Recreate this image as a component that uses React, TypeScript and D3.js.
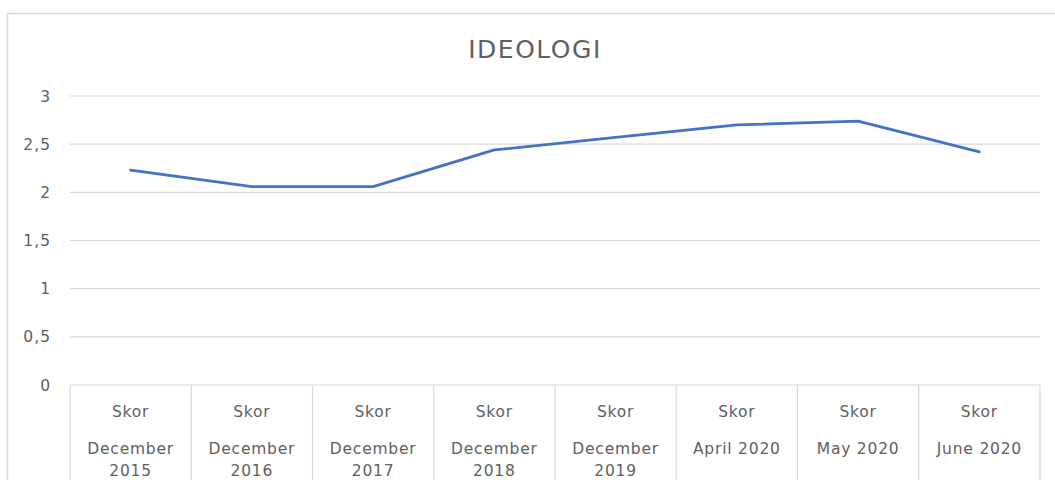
import React from "react";
import * as d3 from "d3";

const title = "IDEOLOGI";
const seriesLabel = "Skor";
const categories: string[][] = [
  ["December", "2015"],
  ["December", "2016"],
  ["December", "2017"],
  ["December", "2018"],
  ["December", "2019"],
  ["April 2020"],
  ["May 2020"],
  ["June 2020"],
];
const values: number[] = [2.23, 2.06, 2.06, 2.44, 2.57, 2.7, 2.74, 2.42];
const yTicks: number[] = [0, 0.5, 1, 1.5, 2, 2.5, 3];

const W = 1055;
const H = 480;
const plotLeft = 70;
const plotRight = 1040;
const plotTop = 96;
const plotBottom = 385;
const grid = "#d9d9d9";
const textColor = "#606060";
const font = "'DejaVu Sans', sans-serif";

export default function App() {
  const x = d3
    .scaleBand<number>()
    .domain(d3.range(categories.length))
    .range([plotLeft, plotRight])
    .padding(0);
  const y = d3.scaleLinear().domain([0, 3]).range([plotBottom, plotTop]);
  const line = d3
    .line<number>()
    .x((_, i) => (x(i) as number) + x.bandwidth() / 2)
    .y((v) => y(v));
  const fmt = (v: number) => String(v).replace(".", ",");

  return (
    <svg
      width={W}
      height={H}
      style={{ position: "absolute", left: 0, top: 0, display: "block", background: "#fff" }}
    >
      <rect x={7.5} y={13.5} width={W + 10} height={H + 10} fill="#fff" stroke={grid} strokeWidth={1.5} />
      <text
        x={535}
        y={58}
        textAnchor="middle"
        fontFamily={font}
        fontSize={25}
        letterSpacing={1.5}
        fill={textColor}
      >
        {title}
      </text>
      {yTicks.map((t) => (
        <g key={t}>
          <line x1={plotLeft} x2={plotRight} y1={y(t)} y2={y(t)} stroke={grid} strokeWidth={1.2} />
          <text
            x={51}
            y={y(t)}
            dy="0.36em"
            textAnchor="end"
            fontFamily={font}
            fontSize={15.5}
            letterSpacing={1}
            fill={textColor}
          >
            {fmt(t)}
          </text>
        </g>
      ))}
      {d3.range(categories.length + 1).map((i) => {
        const xx = i < categories.length ? (x(i) as number) : plotRight;
        return <line key={i} x1={xx} x2={xx} y1={plotBottom} y2={H} stroke={grid} strokeWidth={1.2} />;
      })}
      {categories.map((c, i) => {
        const cx = (x(i) as number) + x.bandwidth() / 2;
        return (
          <g key={i} fontFamily={font} fontSize={15.5} letterSpacing={0.8} fill={textColor} textAnchor="middle">
            <text x={cx} y={411} dy="0.36em">
              {seriesLabel}
            </text>
            {c.map((l, j) => (
              <text key={j} x={cx} y={448 + j * 22} dy="0.36em">
                {l}
              </text>
            ))}
          </g>
        );
      })}
      <path
        d={line(values) || ""}
        fill="none"
        stroke="#4472C4"
        strokeWidth={2.8}
        strokeLinejoin="round"
        strokeLinecap="round"
      />
    </svg>
  );
}
